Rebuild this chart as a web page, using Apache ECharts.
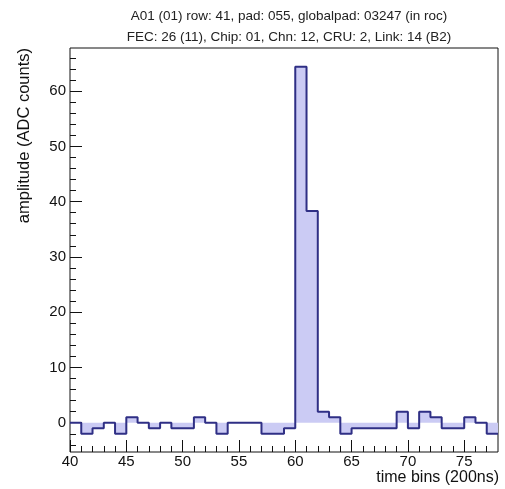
<!DOCTYPE html>
<html>
<head>
<meta charset="utf-8">
<script src="https://cdn.jsdelivr.net/npm/echarts@6/dist/echarts.min.js"></script>
<style>
  html, body { margin: 0; padding: 0; background: #ffffff; }
  #chart { width: 505px; height: 489px; }
</style>
</head>
<body>
<div id="chart"></div>
<script>
// Pad header and axis titles
const titleLines = [
  'A01 (01) row: 41, pad: 055, globalpad: 03247 (in roc)',
  'FEC: 26 (11), Chip: 01, Chn: 12, CRU: 2, Link: 14 (B2)'
];
const xTitle = 'time bins (200ns)';
const yTitle = 'amplitude (ADC counts)';

// Histogram: lower edge of each time bin and its amplitude
const binLowEdges = [40, 41, 42, 43, 44, 45, 46, 47, 48, 49,
                     50, 51, 52, 53, 54, 55, 56, 57, 58, 59,
                     60, 61, 62, 63, 64, 65, 66, 67, 68, 69,
                     70, 71, 72, 73, 74, 75, 76, 77];
const lastBinHighEdge = 78;
const amplitude = [0, -2, -1, 0, -2, 1, 0, -1, 0, -1,
                   -1, 1, 0, -2, 0, 0, 0, -2, -2, -1,
                   64.4, 38.3, 2, 1, -2, -1, -1, -1, -1, 2,
                   -1, 2, 1, -1, -1, 1, 0, -2];

// Axis ranges and tick positions
const xRange = [40, 78];
const yRange = [-5.3, 67.8];
const xMajorTicks = [40, 45, 50, 55, 60, 65, 70, 75];
const xMinorTicks = [41, 42, 43, 44, 46, 47, 48, 49, 51, 52, 53, 54, 56, 57, 58, 59,
                     61, 62, 63, 64, 66, 67, 68, 69, 71, 72, 73, 74, 76, 77];
const yMajorTicks = [0, 10, 20, 30, 40, 50, 60];
const yMinorTicks = [-4, -2, 2, 4, 6, 8, 12, 14, 16, 18, 22, 24, 26, 28, 32, 34, 36, 38,
                     42, 44, 46, 48, 52, 54, 56, 58, 62, 64, 66];

// Step outline: one point per bin lower edge, closed at the upper edge of the last bin
const stepPoints = binLowEdges.map((x, i) => [x, amplitude[i]]);
stepPoints.push([lastBinHighEdge, amplitude[amplitude.length - 1]]);

const FONT = '"Liberation Sans", Arial, Helvetica, sans-serif';
const INK = '#111111';
const PLOT_BOX = { left: 70, right: 7, top: 48, bottom: 37 };

// Inward tick marks along the time axis (no line, no labels)
function xTickAxis(gridIndex, ticks, length) {
  return {
    type: 'value', gridIndex: gridIndex, min: xRange[0], max: xRange[1], position: 'bottom',
    axisLine: { show: false, onZero: false },
    axisTick: { show: true, inside: true, length: length, customValues: ticks,
                lineStyle: { color: INK, width: 1 } },
    axisLabel: { show: false },
    splitLine: { show: false }
  };
}

const chart = echarts.init(document.getElementById('chart'));

chart.setOption({
  animation: false,
  title: [
    { text: titleLines[0], left: 284, top: 4, textAlign: 'center',
      textStyle: { fontFamily: FONT, fontSize: 13.5, fontWeight: 'normal', color: '#222' } },
    { text: titleLines[1], left: 284, top: 25, textAlign: 'center',
      textStyle: { fontFamily: FONT, fontSize: 13.5, fontWeight: 'normal', color: '#222' } }
  ],
  grid: [
    // Plot frame holding the histogram
    Object.assign({ show: true, borderColor: INK }, PLOT_BOX),
    // Same box again, carrying only the time-axis tick marks
    Object.assign({ show: false }, PLOT_BOX)
  ],
  xAxis: [
    { type: 'value', gridIndex: 0, min: xRange[0], max: xRange[1], position: 'bottom',
      axisLine: { show: false, onZero: false },
      axisTick: { show: true, inside: true, length: 12, customValues: xMajorTicks,
                  lineStyle: { color: INK, width: 1 } },
      axisLabel: { customValues: xMajorTicks, color: INK, fontFamily: FONT, fontSize: 15,
                   margin: 2 },
      splitLine: { show: false } },
    xTickAxis(0, xMinorTicks, 6),
    xTickAxis(1, xMajorTicks, 12),
    xTickAxis(1, xMinorTicks, 6)
  ],
  yAxis: [
    { type: 'value', gridIndex: 0, min: yRange[0], max: yRange[1], position: 'left',
      axisLine: { show: false, onZero: false },
      axisTick: { show: true, inside: true, length: 12, customValues: yMajorTicks,
                  lineStyle: { color: INK, width: 1 } },
      axisLabel: { customValues: yMajorTicks, color: INK, fontFamily: FONT, fontSize: 15,
                   margin: 4 },
      splitLine: { show: false } },
    { type: 'value', gridIndex: 0, min: yRange[0], max: yRange[1], position: 'left',
      axisLine: { show: false, onZero: false },
      axisTick: { show: true, inside: true, length: 6, customValues: yMinorTicks,
                  lineStyle: { color: INK, width: 1 } },
      axisLabel: { show: false }, splitLine: { show: false } },
    { type: 'value', gridIndex: 1, min: yRange[0], max: yRange[1], position: 'left',
      axisLine: { show: false, onZero: false },
      axisTick: { show: false }, axisLabel: { show: false }, splitLine: { show: false } }
  ],
  graphic: [
    { type: 'text', x: 499, y: 470,
      style: { text: xTitle, fill: INK, font: '16px ' + FONT,
               textAlign: 'right', textVerticalAlign: 'top' } },
    { type: 'text', x: 24, y: 48, rotation: Math.PI / 2,
      style: { text: yTitle, fill: INK, font: '16.5px ' + FONT,
               textAlign: 'right', textVerticalAlign: 'middle' } }
  ],
  series: [{
    type: 'line',
    xAxisIndex: 0,
    yAxisIndex: 0,
    data: stepPoints,
    step: 'end',
    symbol: 'none',
    lineStyle: { color: '#2f2f85', width: 2 },
    areaStyle: { color: '#cbcbf4', opacity: 1, origin: 0 }
  }]
});
</script>
</body>
</html>
